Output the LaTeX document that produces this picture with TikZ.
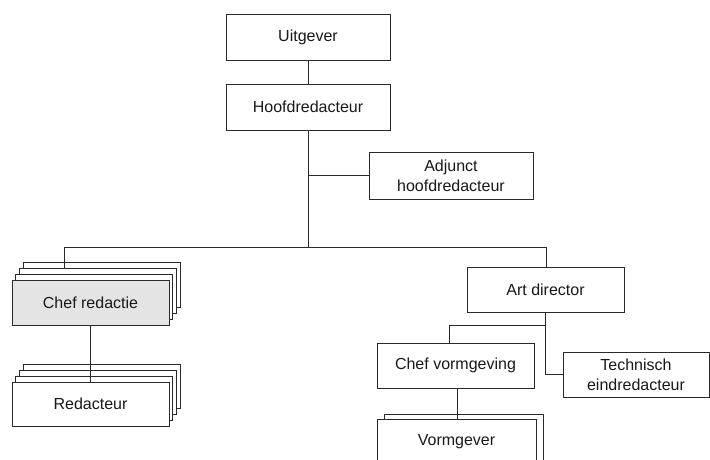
\documentclass[tikz,border=0pt]{standalone}
\usepackage{fontspec}
\setmainfont{Liberation Sans}
\usetikzlibrary{calc}
\definecolor{linec}{HTML}{2A2A2A}
\definecolor{chefgray}{HTML}{E4E4E4}
\tikzset{
  card/.style={draw=linec, line width=1pt, fill=white, inner sep=0pt, align=center,
    font=\fontsize{16}{20}\selectfont, text=black!90},
  wide/.style={minimum width=164pt, minimum height=46pt},
  std/.style={minimum width=157pt, minimum height=45pt},
  conn/.style={draw=linec, line width=1pt}
}
\begin{document}
\begin{tikzpicture}[x=1pt,y=-1pt]
\useasboundingbox (0,0) rectangle (710,459);
\clip (0,0) rectangle (710,459);
% top
\node[card,wide] (uit) at (308,37) {Uitgever};
\node[card,wide] (hoofd) at (308,107) {Hoofdredacteur};
\node[card,minimum width=164pt,minimum height=47pt] (adj) at (451,175.5) {Adjunct\\hoofdredacteur};
\draw[conn] (uit) -- (hoofd);
\coordinate (busmid) at (hoofd.south |- 0,247);
\coordinate (adjj) at (hoofd.south |- adj.west);
\draw[conn] (hoofd.south) -- (busmid);
\draw[conn] (adjj) -- (adj.west);
% bus
\coordinate (busL) at (64,247);
\coordinate (busR) at (546,247);
\draw[conn] (busL) -- (busR);
% chef redactie stack
\node[card,std] (cr3) at (90.5+11.1,302.5-17.1) {};
\node[card,std] (cr2) at (90.5+7.4,302.5-11.4) {};
\node[card,std] (cr1) at (90.5+3.7,302.5-5.7) {};
\node[card,std,fill=chefgray] (cr) at (90.5,302.5) {Chef redactie};
\draw[conn] (busL) -- (busL |- cr2.north);
% redacteur stack
\node[card,std,minimum height=44pt] (rd3) at (90.5+11.1,404-17.1) {};
\node[card,std,minimum height=44pt] (rd2) at (90.5+7.4,404-11.4) {};
\node[card,std,minimum height=44pt] (rd1) at (90.5+3.7,404-5.7) {};
\node[card,std,minimum height=44pt] (rd) at (90.5,404) {Redacteur};
\draw[conn] (cr.south) -- (cr.south |- rd.north);
% art director
\node[card,std] (art) at (545.5,289.5) {Art director};
\draw[conn] (busR) -- (busR |- art.north);
\node[card,std] (cvg) at (455.5,365.5) {Chef vormgeving};
\node[card,minimum width=146pt,minimum height=45pt] (tech) at (636,374.5) {Technisch\\eindredacteur};
\coordinate (artj) at (art.south |- 0,325);
\coordinate (cvgj) at (449,325);
\draw[conn] (art.south) -- (art.south |- tech.west) -- (tech.west);
\draw[conn] (artj) -- (cvgj) -- (cvgj |- cvg.north);
% vormgever stack
\node[card,minimum width=159pt,minimum height=46pt] (vg1) at (456.5+7.3,442-4.5) {};
\node[card,minimum width=159pt,minimum height=46pt] (vg) at (456.5,442) {Vormgever};
\draw[conn] (457,388) coordinate (cvgb) -- (cvgb |- vg.north);
\end{tikzpicture}
\end{document}
